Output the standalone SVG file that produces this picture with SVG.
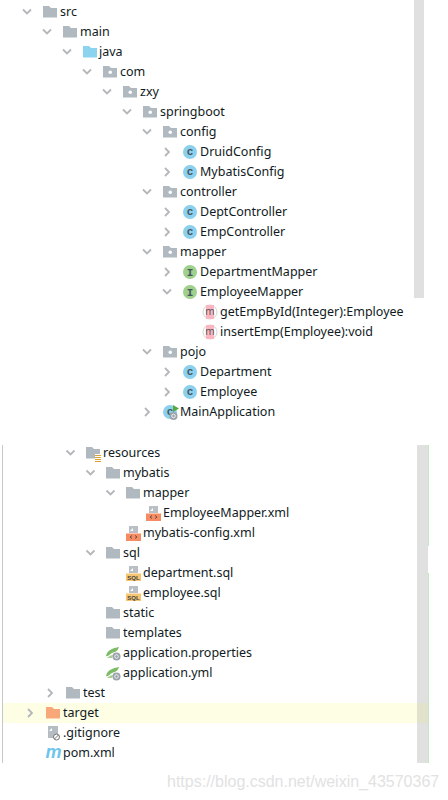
<svg xmlns="http://www.w3.org/2000/svg" width="448" height="800" viewBox="0 0 448 800">
<style>
text{font-family:"Noto Sans","Open Sans","DejaVu Sans",sans-serif;font-size:12.5px;fill:#111a22}
.chev{fill:none;stroke:#b4b7ba;stroke-width:1.8}
.gl{font-family:"Liberation Mono",monospace;font-size:11px;font-weight:bold;text-anchor:middle;fill:#44565f}
.mk{font-family:"Noto Sans",sans-serif;font-size:10px;text-anchor:middle;fill:#555}
.wm{font-family:"Liberation Sans",Arial,sans-serif;font-size:16px;fill:#e2e2e2}
.sq{font-family:"Liberation Sans",Arial,sans-serif;font-size:6px;font-weight:bold;text-anchor:middle;fill:#444}
</style>
<defs>
<path id="d" class="chev" d="M-4-2.500 0 1.500 4-2.500"/>
<path id="r" class="chev" d="M-2-4 2 0-2 4"/>
<path id="f" d="M0-6H6L8-4H14V5.500H0Z" fill="#b0b9c0"/>
<g id="p"><use href="#f"/><rect x="5.500" y="-1.500" width="3.500" height="3.500" rx="1.700" fill="#fff"/></g>
<g id="c"><circle cx="7" cy="0" r="7" fill="#8bd0ed"/><text class="gl" x="7" y="3">c</text></g>
<g id="i"><circle cx="7" cy="0" r="7" fill="#9fd08c"/><text class="gl" x="7" y="3.500">I</text></g>
<g id="m"><circle cx="7" cy="0" r="7" fill="none" stroke="#d4d4d4" stroke-width="1"/><rect x="3" y="-7" width="8" height="14" fill="#fcb6c2"/><text class="mk" x="7" y="3">m</text></g>
<g id="doc"><path d="M3-7H12V0H3Z" fill="#b9bfc4"/><path d="M4-2 7-5V-2Z" fill="#fff"/></g>
<g id="x"><use href="#doc"/><rect x="0" y="0.500" width="15" height="7.500" fill="#f78c63"/><path d="M6 2.500 4 4 6 5.500M9 2.500 11 4 9 5.500" fill="none" stroke="#444" stroke-width=".8"/></g>
<g id="s"><use href="#doc"/><rect x="0" y="0.500" width="15" height="7.500" fill="#f7c56f"/><text class="sq" x="7.500" y="7">SQL</text></g>
<g id="b"><path d="M0 3C1-3 7-5 13-6 12-2 9-1 6 0 4 1 2 4 0 3Z" fill="#7ebb66"/><path d="M1 5C3 3 5 2 7 2L6 5Z" fill="#a5cf94"/><circle cx="10.500" cy="3.500" r="4" fill="#9aa3a9"/><circle cx="10.500" cy="3.500" r="1.800" fill="none" stroke="#fff" stroke-width=".8"/></g>
</defs>

<g id="chrome">
<rect x="414" y="0" width="10" height="298" fill="#e0e0e0"/>
<rect x="2" y="445" width="1" height="318" fill="#c8c8c8"/>
<rect x="3" y="703" width="425" height="20" fill="#fefee4"/>
<rect x="417" y="445" width="11" height="318" fill="#e0e0e0"/>
<rect x="417" y="703" width="11" height="20" fill="#e2e2cc"/>
<rect x="428" y="445" width="1" height="101" fill="#c2e8c4"/>
<rect x="428" y="573" width="1" height="190" fill="#c2e8c4"/>
</g>

<g id="connectors">
<use href="#d" x="27" y="12"/><use href="#d" x="47" y="32"/><use href="#d" x="67" y="52"/><use href="#d" x="87" y="72"/><use href="#d" x="107" y="92"/><use href="#d" x="127" y="112"/><use href="#d" x="147" y="132"/>
<use href="#r" x="167" y="152"/><use href="#r" x="167" y="172"/><use href="#d" x="147" y="192"/><use href="#r" x="167" y="212"/><use href="#r" x="167" y="232"/><use href="#d" x="147" y="252"/><use href="#r" x="167" y="272"/><use href="#d" x="167" y="292"/><use href="#d" x="147" y="352"/><use href="#r" x="167" y="372"/><use href="#r" x="167" y="392"/><use href="#r" x="147" y="412"/>
<use href="#d" x="70.500" y="453"/><use href="#d" x="90.500" y="473"/><use href="#d" x="110.500" y="493"/><use href="#d" x="90.500" y="553"/><use href="#r" x="50" y="693"/><use href="#r" x="30" y="713"/>
</g>

<g id="n-src"><use href="#f" x="43" y="12"/><text x="60" y="16">src</text></g>
<g id="n-main"><use href="#f" x="63" y="32"/><text x="80" y="36">main</text></g>
<g id="n-java"><path transform="translate(83 52)" d="M0-6H6L8-4H14V5.500H0Z" fill="#8bd3ee"/><text x="99" y="56">java</text></g>
<g id="n-com"><use href="#p" x="103" y="72"/><text x="120" y="76">com</text></g>
<g id="n-zxy"><use href="#p" x="123" y="92"/><text x="140" y="96">zxy</text></g>
<g id="n-springboot"><use href="#p" x="143" y="112"/><text x="160" y="116">springboot</text></g>
<g id="n-config"><use href="#p" x="163" y="132"/><text x="180" y="136">config</text></g>
<g id="n-druid"><use href="#c" x="183" y="152"/><text x="200" y="156">DruidConfig</text></g>
<g id="n-mybatisconfig"><use href="#c" x="183" y="172"/><text x="200" y="176">MybatisConfig</text></g>
<g id="n-controller"><use href="#p" x="163" y="192"/><text x="180" y="196">controller</text></g>
<g id="n-dept"><use href="#c" x="183" y="212"/><text x="200" y="216">DeptController</text></g>
<g id="n-emp"><use href="#c" x="183" y="232"/><text x="200" y="236">EmpController</text></g>
<g id="n-mapper"><use href="#p" x="163" y="252"/><text x="180" y="256">mapper</text></g>
<g id="n-deptmapper"><use href="#i" x="183" y="272"/><text x="200" y="276">DepartmentMapper</text></g>
<g id="n-empmapper"><use href="#i" x="183" y="292"/><text x="200" y="296">EmployeeMapper</text></g>
<g id="n-get"><use href="#m" x="203" y="312"/><text x="220" y="316">getEmpById(Integer):Employee</text></g>
<g id="n-insert"><use href="#m" x="203" y="332"/><text x="220" y="336">insertEmp(Employee):void</text></g>
<g id="n-pojo"><use href="#p" x="163" y="352"/><text x="180" y="356">pojo</text></g>
<g id="n-department"><use href="#c" x="183" y="372"/><text x="200" y="376">Department</text></g>
<g id="n-employee"><use href="#c" x="183" y="392"/><text x="200" y="396">Employee</text></g>
<g id="n-mainapp"><use href="#c" x="163" y="412"/><path d="M173 405V412L179 408.500Z" fill="#59a83e"/><circle cx="173.500" cy="416" r="4" fill="#9aa3a9"/><circle cx="173.500" cy="416" r="1.800" fill="none" stroke="#fff" stroke-width=".8"/><text x="180" y="416">MainApplication</text></g>

<g id="n-resources"><use href="#f" x="86" y="453"/><rect x="95" y="454" width="6" height="8" fill="#fff"/><path d="M95 455.500H101M95 457.500H101M95 459.500H101M95 461.500H101" stroke="#e0a030" stroke-width="1"/><text x="103" y="457">resources</text></g>
<g id="n-mybatis"><use href="#f" x="106" y="473"/><text x="123" y="477">mybatis</text></g>
<g id="n-resmapper"><use href="#f" x="126" y="493"/><text x="143" y="497">mapper</text></g>
<g id="n-empxml"><use href="#x" x="146" y="513"/><text x="163" y="517">EmployeeMapper.xml</text></g>
<g id="n-mybatisxml"><use href="#x" x="126" y="533"/><text x="143" y="537">mybatis-config.xml</text></g>
<g id="n-sql"><use href="#f" x="106" y="553"/><text x="123" y="557">sql</text></g>
<g id="n-departmentsql"><use href="#s" x="126" y="573"/><text x="143" y="577">department.sql</text></g>
<g id="n-employeesql"><use href="#s" x="126" y="593"/><text x="143" y="597">employee.sql</text></g>
<g id="n-static"><use href="#f" x="106" y="613"/><text x="123" y="617">static</text></g>
<g id="n-templates"><use href="#f" x="106" y="633"/><text x="123" y="637">templates</text></g>
<g id="n-props"><use href="#b" x="106" y="653"/><text x="123" y="657">application.properties</text></g>
<g id="n-yml"><use href="#b" x="106" y="673"/><text x="123" y="677">application.yml</text></g>
<g id="n-test"><use href="#f" x="66" y="693"/><text x="83" y="697">test</text></g>
<g id="n-target"><path transform="translate(46 713)" d="M0-6H6L8-4H14V5.500H0Z" fill="#f8a878"/><text x="63" y="717">target</text></g>
<g id="n-gitignore"><path d="M48 726H58V738H48Z" fill="#b5bcc2"/><path d="M49 731 52 728V731Z" fill="#fff"/><circle cx="56.500" cy="737" r="3" fill="#fff" stroke="#666" stroke-width=".9"/><path d="M54.500 739 58.500 735" stroke="#666" stroke-width=".9"/><text x="63" y="737">.gitignore</text></g>
<g id="n-pom"><text x="45.500" y="758" style="font-family:'Liberation Sans',sans-serif;font-size:18px;font-weight:bold;font-style:italic;fill:#6cc5ee">m</text><text x="63" y="757">pom.xml</text></g>
<text class="wm" x="167" y="787">https://blog.csdn.net/weixin_43570367</text>
</svg>
